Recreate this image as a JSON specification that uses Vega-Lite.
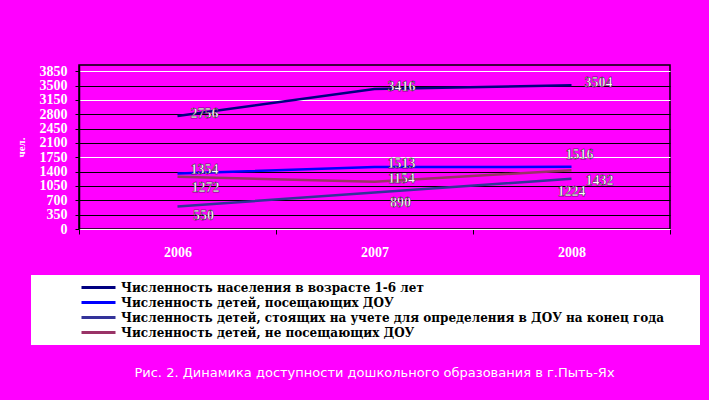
{
  "$schema": "https://vega.github.io/schema/vega-lite/v6.json",
  "width": 591,
  "height": 164,
  "autosize": "none",
  "padding": {"left": 79, "top": 65, "right": 39, "bottom": 171},
  "background": "#FF00FF",
  "title": {
    "text": "Рис. 2.  Динамика доступности дошкольного образования в г.Пыть-Ях",
    "orient": "bottom",
    "anchor": "middle",
    "font": "DejaVu Sans",
    "fontSize": 13,
    "fontWeight": "normal",
    "color": "white",
    "offset": 22
  },
  "config": {
    "view": {"stroke": "black", "strokeWidth": 1.5},
    "font": "Liberation Serif"
  },
  "data": {
    "values": [
      {"year": "2006", "series": "Численность населения в возрасте 1-6 лет", "value": 2756},
      {"year": "2007", "series": "Численность населения в возрасте 1-6 лет", "value": 3416},
      {"year": "2008", "series": "Численность населения в возрасте 1-6 лет", "value": 3504},
      {"year": "2006", "series": "Численность детей, посещающих ДОУ", "value": 1354},
      {"year": "2007", "series": "Численность детей, посещающих ДОУ", "value": 1513},
      {"year": "2008", "series": "Численность детей, посещающих ДОУ", "value": 1516},
      {"year": "2006", "series": "Численность детей, стоящих на учете для определения в ДОУ на конец года", "value": 550},
      {"year": "2007", "series": "Численность детей, стоящих на учете для определения в ДОУ на конец года", "value": 890},
      {"year": "2008", "series": "Численность детей, стоящих на учете для определения в ДОУ на конец года", "value": 1224},
      {"year": "2006", "series": "Численность детей, не посещающих ДОУ", "value": 1272},
      {"year": "2007", "series": "Численность детей, не посещающих ДОУ", "value": 1154},
      {"year": "2008", "series": "Численность детей, не посещающих ДОУ", "value": 1432}
    ]
  },
  "encoding": {
    "x": {
      "field": "year",
      "type": "ordinal",
      "scale": {"type": "band", "paddingInner": 0, "paddingOuter": 0},
      "axis": {
        "title": null,
        "labelAngle": 0,
        "labelFont": "Liberation Serif",
        "labelFontWeight": "bold",
        "labelFontSize": 14,
        "labelColor": "white",
        "labelPadding": 11,
        "tickBand": "extent",
        "tickColor": "black",
        "tickSize": 5,
        "domainColor": "white",
        "grid": false
      }
    },
    "y": {
      "field": "value",
      "type": "quantitative",
      "scale": {"domain": [0, 4000], "nice": false},
      "axis": {
        "title": "чел.",
        "titleColor": "white",
        "titleFont": "Liberation Serif",
        "titleFontWeight": "bold",
        "titleFontSize": 11,
        "titlePadding": 13,
        "values": [0, 350, 700, 1050, 1400, 1750, 2100, 2450, 2800, 3150, 3500, 3850],
        "format": "d",
        "labelFont": "Liberation Serif",
        "labelFontWeight": "bold",
        "labelFontSize": 14,
        "labelColor": "white",
        "labelPadding": 8,
        "tickSize": 4,
        "tickColor": "black",
        "domainColor": "black",
        "domainWidth": 1.5,
        "grid": true,
        "gridOpacity": 1,
        "gridWidth": 1.2,
        "gridColor": {
          "condition": {"test": "datum.value == 0 || datum.value == 1750 || datum.value == 3150 || datum.value == 3850", "value": "white"},
          "value": "black"
        }
      }
    }
  },
  "layer": [
    {
      "mark": {"type": "line", "strokeWidth": 2.5},
      "encoding": {
        "color": {
          "field": "series",
          "type": "nominal",
          "scale": {
            "domain": [
              "Численность населения в возрасте 1-6 лет",
              "Численность детей, посещающих ДОУ",
              "Численность детей, стоящих на учете для определения в ДОУ на конец года",
              "Численность детей, не посещающих ДОУ"
            ],
            "range": ["#000080", "#0000FF", "#333399", "#993366"]
          },
          "legend": {
            "title": "\u00a0",
            "titleOrient": "right",
            "titlePadding": 30,
            "titleFontSize": 13,
            "orient": "none",
            "legendX": -48,
            "legendY": 210,
            "fillColor": "white",
            "padding": 6,
            "symbolOffset": 55,
            "symbolType": "M-3.4,0H3.4",
            "symbolStrokeWidth": 3,
            "symbolSize": 100,
            "symbolFillColor": "transparent",
            "labelFont": "DejaVu Serif",
            "labelFontWeight": "bold",
            "labelFontSize": 12,
            "labelColor": "black",
            "labelLimit": 700,
            "labelOffset": 16,
            "rowPadding": 2
          }
        }
      }
    },
    {
      "transform": [{"filter": "datum.series == 'Численность населения в возрасте 1-6 лет'"}],
      "mark": {"type": "text", "dx": 27, "dy": -2, "font": "Liberation Serif", "fontWeight": "bold", "fontSize": 14, "fill": "white", "stroke": "black", "strokeWidth": 0.4},
      "encoding": {"text": {"field": "value", "type": "quantitative"}}
    },
    {
      "transform": [{"filter": "datum.series == 'Численность детей, посещающих ДОУ' && datum.year != '2008'"}],
      "mark": {"type": "text", "dx": 27, "dy": -3, "font": "Liberation Serif", "fontWeight": "bold", "fontSize": 14, "fill": "white", "stroke": "black", "strokeWidth": 0.4},
      "encoding": {"text": {"field": "value", "type": "quantitative"}}
    },
    {
      "transform": [{"filter": "datum.series == 'Численность детей, посещающих ДОУ' && datum.year == '2008'"}],
      "mark": {"type": "text", "dx": 8, "dy": -12, "font": "Liberation Serif", "fontWeight": "bold", "fontSize": 14, "fill": "white", "stroke": "black", "strokeWidth": 0.4},
      "encoding": {"text": {"field": "value", "type": "quantitative"}}
    },
    {
      "transform": [{"filter": "datum.series == 'Численность детей, не посещающих ДОУ' && datum.year != '2007'"}],
      "mark": {"type": "text", "dx": 28, "dy": 11, "font": "Liberation Serif", "fontWeight": "bold", "fontSize": 14, "fill": "white", "stroke": "black", "strokeWidth": 0.4},
      "encoding": {"text": {"field": "value", "type": "quantitative"}}
    },
    {
      "transform": [{"filter": "datum.series == 'Численность детей, не посещающих ДОУ' && datum.year == '2007'"}],
      "mark": {"type": "text", "dx": 27, "dy": -3, "font": "Liberation Serif", "fontWeight": "bold", "fontSize": 14, "fill": "white", "stroke": "black", "strokeWidth": 0.4},
      "encoding": {"text": {"field": "value", "type": "quantitative"}}
    },
    {
      "transform": [{"filter": "datum.series == 'Численность детей, стоящих на учете для определения в ДОУ на конец года' && datum.year != '2008'"}],
      "mark": {"type": "text", "dx": 26, "dy": 10, "font": "Liberation Serif", "fontWeight": "bold", "fontSize": 14, "fill": "white", "stroke": "black", "strokeWidth": 0.4},
      "encoding": {"text": {"field": "value", "type": "quantitative"}}
    },
    {
      "transform": [{"filter": "datum.series == 'Численность детей, стоящих на учете для определения в ДОУ на конец года' && datum.year == '2008'"}],
      "mark": {"type": "text", "dx": 0, "dy": 13, "font": "Liberation Serif", "fontWeight": "bold", "fontSize": 14, "fill": "white", "stroke": "black", "strokeWidth": 0.4},
      "encoding": {"text": {"field": "value", "type": "quantitative"}}
    }
  ]
}
